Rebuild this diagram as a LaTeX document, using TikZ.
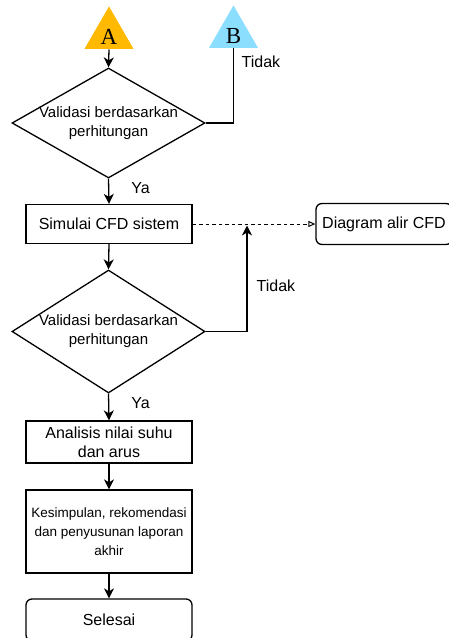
\documentclass[tikz,border=0pt]{standalone}
\usepackage{fontspec}
\setmainfont{Liberation Sans}
\newfontfamily\lettrfont{Liberation Serif}
\usetikzlibrary{shapes.geometric,arrows.meta}
\definecolor{orangeA}{RGB}{255,185,0}
\definecolor{blueB}{RGB}{140,222,255}

\begin{document}
\begin{tikzpicture}[x=1pt,y=-1pt,line width=1.3pt,
  proc/.style={draw,rectangle,inner sep=0pt,minimum width=166pt,align=center,font=\fontsize{16}{19}\selectfont},
  term/.style={proc,rounded corners=6pt},
  decide/.style={draw,diamond,inner sep=0pt,minimum width=193pt},
  diatext/.style={align=center,inner sep=0pt,font=\fontsize{15}{19}\selectfont},
  conn/.style={regular polygon,regular polygon sides=3,inner sep=0pt,minimum size=53.4pt,text height=20pt,text depth=0pt,font=\lettrfont\fontsize{23}{23}\selectfont},
  flow/.style={-{Stealth[length=10pt,width=10pt,inset=3pt]}},
  lbl/.style={anchor=west,inner sep=0pt,font=\fontsize{16}{19}\selectfont}]
\useasboundingbox (0,0) rectangle (449,638);
\node[conn,fill=orangeA] (triA) at (109,34.7) {A};
\node[conn,fill=blueB] (triB) at (233.5,33.7) {B};
\node[decide,minimum height=110pt,label={[diatext]center:{Validasi berdasarkan\\perhitungan}}] (val1) at (108.5,123) {};
\node[proc,minimum height=39pt] (sim) at (109,224) {Simulai CFD sistem};
\node[term,minimum width=136pt,minimum height=41pt] (cfd) at (384,224) {Diagram alir CFD};
\node[decide,minimum height=123pt,label={[diatext]center:{Validasi berdasarkan\\perhitungan}}] (val2) at (108.5,331.5) {};
\node[proc,minimum height=42pt] (anl) at (109,442) {Analisis nilai suhu\\dan arus};
\node[proc,minimum height=83pt,font=\fontsize{13.5}{19}\selectfont] (kes) at (109,531.5) {Kesimpulan, rekomendasi\\dan penyusunan laporan\\akhir};
\node[term,minimum height=42pt] (sel) at (109,620) {Selesai};
\coordinate (join) at (247,225.5);

\draw[flow] (triA.south) -- (val1.north);
\draw[flow] (val1.south) -- node[lbl,pos=0.38,xshift=22pt]{Ya} (sim.north);
\draw (val1.east) -| node[lbl,pos=0.908,xshift=7.5pt]{Tidak} (triB.south);
\draw[line width=1pt,dash pattern=on 3.5pt off 3pt,-{Triangle[open,length=7pt,width=6pt]}] (sim.east) -- (cfd.west);
\draw[flow] (sim.south) -- (val2.north);
\draw[flow] (val2.east) -| node[lbl,pos=0.715,xshift=9pt]{Tidak} (join);
\draw[flow] (val2.south) -- node[lbl,pos=0.36,xshift=22pt]{Ya} (anl.north);
\draw[flow] (anl.south) -- (kes.north);
\draw[flow] (kes.south) -- (sel.north);
\end{tikzpicture}
\end{document}
